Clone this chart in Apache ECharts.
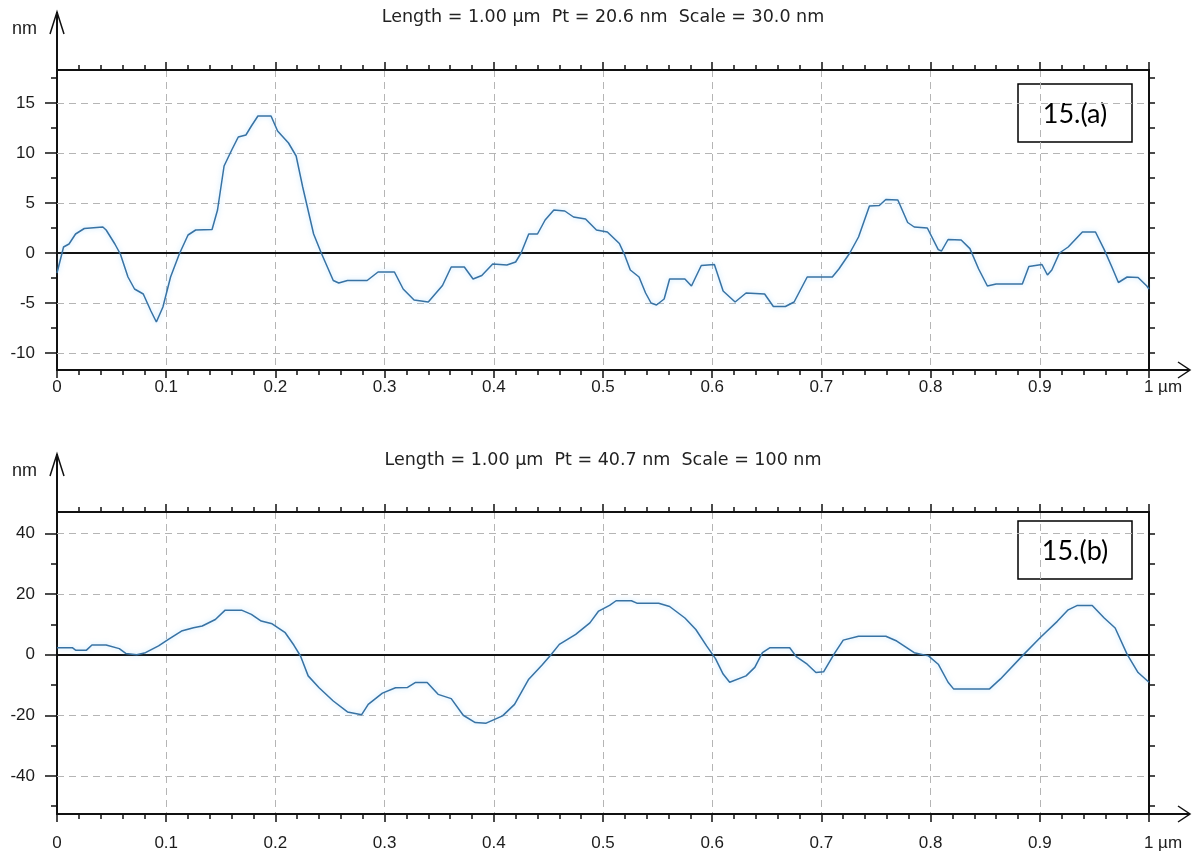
<!DOCTYPE html>
<html>
<head>
<meta charset="utf-8">
<script src="https://cdn.jsdelivr.net/npm/echarts@6/dist/echarts.min.js"></script>
<style>html,body{margin:0;padding:0;background:#fff;}#c{width:1192px;height:856px;}</style>
</head>
<body>
<div id="c"></div>
<script>
// ---- data ----
const titleA = 'Length = 1.00 µm  Pt = 20.6 nm  Scale = 30.0 nm';
const titleB = 'Length = 1.00 µm  Pt = 40.7 nm  Scale = 100 nm';
const panelA = '15.(a)';
const panelB = '15.(b)';
const yUnit = 'nm';
const xUnit = 'µm';

const topX = [0,0.006,0.011,0.017,0.025,0.042,0.045,0.053,0.058,0.065,0.071,0.079,0.086,0.091,0.097,0.104,0.112,0.120,0.127,0.142,0.147,0.153,0.160,0.166,0.173,0.178,0.184,0.196,0.202,0.212,0.219,0.225,0.235,0.242,0.253,0.258,0.266,0.284,0.294,0.309,0.317,0.327,0.340,0.353,0.361,0.373,0.381,0.389,0.399,0.412,0.420,0.425,0.432,0.440,0.447,0.455,0.465,0.473,0.484,0.494,0.504,0.515,0.520,0.525,0.533,0.539,0.544,0.549,0.556,0.561,0.575,0.581,0.590,0.602,0.610,0.621,0.631,0.648,0.656,0.667,0.675,0.687,0.710,0.716,0.726,0.734,0.744,0.753,0.759,0.770,0.779,0.785,0.797,0.807,0.810,0.816,0.828,0.836,0.844,0.852,0.860,0.884,0.890,0.902,0.907,0.911,0.918,0.926,0.939,0.951,0.959,0.966,0.972,0.980,0.990,0.998,1.0];
const topY = [-2.0,0.6,0.9,1.9,2.45,2.6,2.3,0.9,-0.1,-2.4,-3.6,-4.1,-5.8,-6.9,-5.4,-2.4,-0.1,1.8,2.3,2.35,4.3,8.7,10.3,11.6,11.8,12.7,13.7,13.7,12.2,11.0,9.7,6.6,1.9,0,-2.75,-3.0,-2.75,-2.75,-1.9,-1.9,-3.6,-4.7,-4.9,-3.25,-1.4,-1.4,-2.6,-2.25,-1.1,-1.2,-0.9,0,1.9,1.9,3.3,4.3,4.2,3.6,3.4,2.3,2.1,0.95,-0.24,-1.7,-2.4,-4.0,-5.0,-5.2,-4.6,-2.6,-2.6,-3.3,-1.25,-1.15,-3.8,-4.9,-4.0,-4.1,-5.35,-5.35,-4.9,-2.4,-2.4,-1.6,0,1.6,4.7,4.75,5.35,5.3,3.05,2.6,2.5,0.34,0.2,1.35,1.3,0.44,-1.6,-3.3,-3.1,-3.1,-1.35,-1.15,-2.2,-1.7,0,0.6,2.1,2.1,0.34,-1.4,-2.95,-2.4,-2.45,-3.3,-3.6];

const botX = [0,0.014,0.017,0.027,0.032,0.045,0.057,0.063,0.073,0.081,0.093,0.102,0.114,0.125,0.133,0.145,0.154,0.169,0.178,0.187,0.197,0.209,0.217,0.223,0.230,0.240,0.253,0.266,0.279,0.285,0.298,0.310,0.321,0.328,0.339,0.349,0.361,0.372,0.383,0.393,0.408,0.419,0.432,0.444,0.452,0.460,0.475,0.488,0.496,0.506,0.512,0.526,0.531,0.551,0.561,0.575,0.585,0.595,0.603,0.610,0.616,0.631,0.639,0.646,0.653,0.671,0.677,0.687,0.695,0.702,0.712,0.720,0.734,0.759,0.769,0.785,0.798,0.807,0.816,0.821,0.854,0.864,0.884,0.900,0.916,0.926,0.934,0.948,0.959,0.969,0.980,0.990,1.0];
const botY = [2.3,2.3,1.5,1.5,3.2,3.2,2.0,0.4,0,0.66,2.9,5.05,7.8,8.9,9.45,11.6,14.7,14.7,13.3,11.1,10.2,7.25,3.1,-0.44,-7.0,-10.9,-15.3,-18.9,-19.8,-16.4,-12.7,-10.9,-10.8,-9.2,-9.2,-13.1,-14.5,-20,-22.4,-22.6,-20.2,-16.4,-8.1,-3.5,-0.2,3.4,6.7,10.5,14.4,16.3,17.8,17.8,17.0,17.0,15.9,12.1,8.3,2.8,-1.3,-6.4,-9.1,-7.0,-4.2,0.65,2.3,2.3,-0.65,-3.15,-5.9,-5.65,0.43,4.8,6.1,6.1,4.5,0.65,-0.4,-3.15,-9.1,-11.3,-11.3,-8.0,-0.4,5.5,11.0,14.8,16.2,16.2,12.1,8.8,0.1,-5.9,-9.1];

const topYRange = [-11.7, 18.3];
const botYRange = [-52.6, 47.1];
const topYMajor = [-10, -5, 0, 5, 10, 15];
const topYMinor = [-7.5, -2.5, 2.5, 7.5, 12.5, 17.5];
const botYMajor = [-40, -20, 0, 20, 40];
const botYMinor = [-50, -30, -10, 10, 30];
const xRange = [0, 1];
const xStep = 0.1;

// ---- layout ----
const L = 57, W = 1092;
const G = [{top: 70, height: 300}, {top: 512, height: 302}];
const BLACK = '#111';
const LBL = '#1c1c1c';
const GRID = '#b5b5b5';

function zip(a, b) { return a.map((v, i) => [v, b[i]]); }

function xAxes(gi, labelMargin) {
  const common = {
    gridIndex: gi, type: 'value', min: xRange[0], max: xRange[1], interval: xStep,
    axisLine: {show: true, onZero: false, lineStyle: {color: BLACK, width: 2}},
    axisTick: {show: true, length: 8, lineStyle: {color: BLACK, width: 1.5}},
    minorTick: {show: true, splitNumber: 5, length: 5, lineStyle: {color: BLACK, width: 1.5}},
  };
  return [
    Object.assign({}, common, {
      position: 'bottom',
      splitLine: {show: true, lineStyle: {color: GRID, type: [7, 5], width: 1}},
      axisLabel: {
        show: true, margin: labelMargin, color: LBL, fontSize: 17,
        fontFamily: 'Liberation Sans, Arial, sans-serif', hideOverlap: false, interval: 0,
        formatter: function (v) {
          if (Math.abs(v - 1) < 1e-9) return '{u|1 ' + xUnit + '}';
          if (Math.abs(v) < 1e-9) return '0';
          return String(+v.toFixed(1));
        },
        rich: {u: {padding: [0, 0, 0, 28], fontSize: 17, color: LBL, fontFamily: 'Liberation Sans, Arial, sans-serif'}}
      }
    }),
    Object.assign({}, common, {
      position: 'top', splitLine: {show: false}, axisLabel: {show: false}
    })
  ];
}

function yAxes(gi, range, major, minor) {
  const base = {gridIndex: gi, type: 'value', min: range[0], max: range[1], splitLine: {show: false}};
  return [
    Object.assign({}, base, {
      position: 'left',
      name: yUnit, nameLocation: 'end', nameGap: 41,
      nameTextStyle: {align: 'right', verticalAlign: 'middle', padding: [0, 20, 0, 0], color: LBL, fontSize: 18, fontFamily: 'Liberation Sans, Arial, sans-serif'},
      axisLine: {show: true, onZero: false, lineStyle: {color: BLACK, width: 2}},
      axisTick: {show: true, customValues: major, length: 12, lineStyle: {color: BLACK, width: 1.5}},
      axisLabel: {show: true, customValues: major, margin: 22, color: LBL, fontSize: 17, fontFamily: 'Liberation Sans, Arial, sans-serif'}
    }),
    Object.assign({}, base, {
      position: 'left',
      axisLine: {show: false},
      axisTick: {show: true, customValues: minor, length: 6, lineStyle: {color: BLACK, width: 1.5}},
      axisLabel: {show: false}
    }),
    Object.assign({}, base, {
      position: 'right',
      axisLine: {show: true, onZero: false, lineStyle: {color: BLACK, width: 2}},
      axisTick: {show: true, customValues: major.concat(minor), length: 6, lineStyle: {color: BLACK, width: 1.5}},
      axisLabel: {show: false}
    })
  ];
}

function gridMarks(major) {
  return major.map(v => v === 0
    ? {yAxis: v, lineStyle: {color: BLACK, width: 2, type: 'solid'}}
    : {yAxis: v, lineStyle: {color: GRID, width: 1, type: [7, 5]}});
}

function profileSeries(xi, yi, xs, ys, major) {
  return {
    type: 'line', xAxisIndex: xi, yAxisIndex: yi, data: zip(xs, ys),
    showSymbol: false, symbol: 'none', z: 3, animation: false,
    lineStyle: {color: '#3872a3', width: 1.5, shadowColor: 'rgba(120,200,255,0.55)', shadowBlur: 5},
    markLine: {silent: true, symbol: 'none', z: 1, label: {show: false}, animation: false, data: gridMarks(major)}
  };
}

function decor(yTop, yBot) {
  const ax = L, right = L + W;
  const st = {stroke: BLACK, lineWidth: 1.5, fill: 'none'};
  return [
    {type: 'line', shape: {x1: ax, y1: yTop - 58, x2: ax, y2: yTop}, style: {stroke: BLACK, lineWidth: 2}, z: 10},
    {type: 'polyline', shape: {points: [[ax - 7, yTop - 36], [ax, yTop - 58], [ax + 7, yTop - 36]]}, style: st, z: 10},
    {type: 'line', shape: {x1: right, y1: yBot, x2: 1190, y2: yBot}, style: {stroke: BLACK, lineWidth: 2}, z: 10},
    {type: 'polyline', shape: {points: [[1178, yBot - 8], [1190, yBot], [1178, yBot + 8]]}, style: st, z: 10}
  ];
}

function panelBox(y, label) {
  return {
    type: 'group', x: 1018, y: y, z: 20,
    children: [
      {type: 'rect', shape: {x: 0, y: 0, width: 114, height: 58}, style: {fill: '#fff', stroke: '#000', lineWidth: 1.5}},
      {type: 'text', x: 57, y: 30, style: {text: label, font: '27px Lato, "Open Sans", sans-serif', fill: '#000', align: 'center', verticalAlign: 'middle'}}
    ]
  };
}

const option = {
  backgroundColor: '#fff',
  animation: false,
  title: [
    {text: titleA, left: 603, top: 8, padding: 0, textAlign: 'center', textStyle: {fontSize: 17.5, fontWeight: 'normal', color: '#222', fontFamily: 'DejaVu Sans, sans-serif'}},
    {text: titleB, left: 603, top: 451, padding: 0, textAlign: 'center', textStyle: {fontSize: 17.5, fontWeight: 'normal', color: '#222', fontFamily: 'DejaVu Sans, sans-serif'}}
  ],
  grid: G.map(g => ({left: L, width: W, top: g.top, height: g.height, containLabel: false})),
  xAxis: xAxes(0, 9).concat(xAxes(1, 21)),
  yAxis: yAxes(0, topYRange, topYMajor, topYMinor).concat(yAxes(1, botYRange, botYMajor, botYMinor)),
  series: [
    profileSeries(0, 0, topX, topY, topYMajor),
    profileSeries(2, 3, botX, botY, botYMajor)
  ],
  graphic: [].concat(
    decor(G[0].top, G[0].top + G[0].height),
    decor(G[1].top, G[1].top + G[1].height),
    [panelBox(84, panelA), panelBox(521, panelB)]
  )
};

const chart = echarts.init(document.getElementById('c'), null, {renderer: 'canvas'});
chart.setOption(option);
</script>
</body>
</html>
